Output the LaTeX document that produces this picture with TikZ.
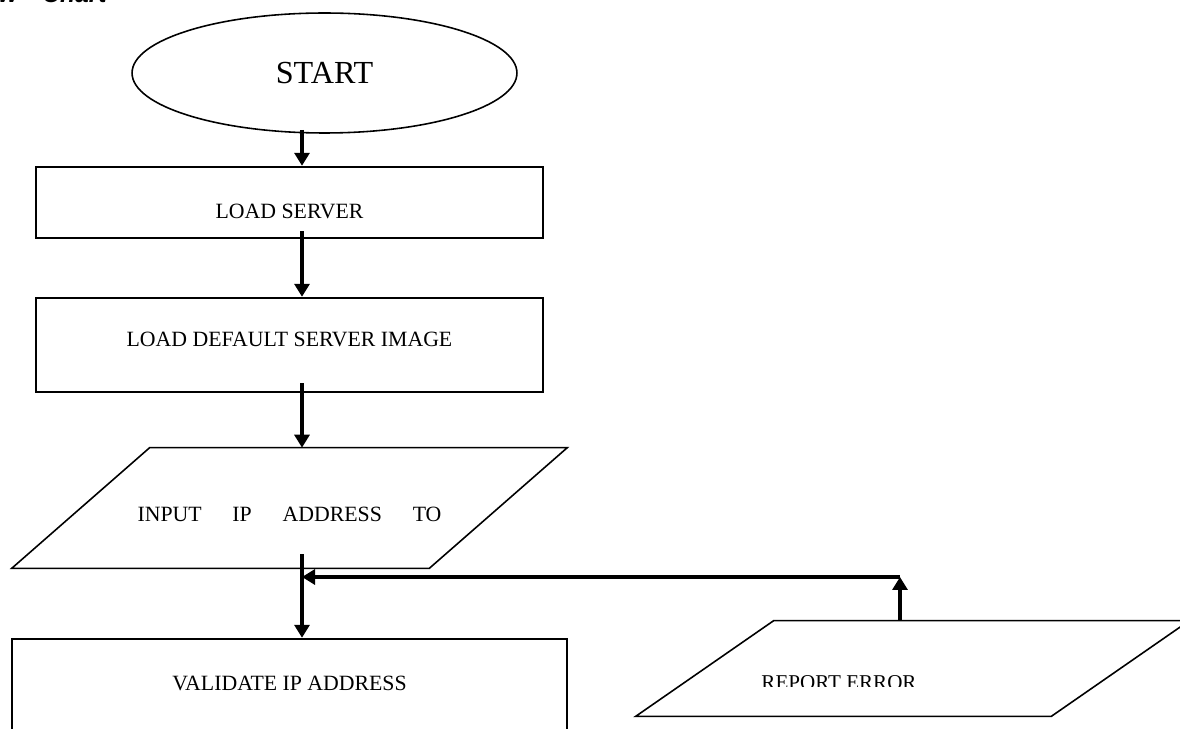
\documentclass[tikz,border=0pt]{standalone}
\usepackage{fontspec}
\setmainfont{Liberation Serif}
\newfontfamily\headfont{Liberation Sans}
\usetikzlibrary{shapes,arrows.meta,positioning}

\begin{document}
\begin{tikzpicture}[x=0.02cm, y=-0.02cm,
		terminal/.style={draw, ellipse, line width=0.9pt, inner sep=0pt,
			minimum width=7.7cm, minimum height=2.4cm, font=\fontsize{18.3}{21}\selectfont},
		box/.style={draw, rectangle, line width=1.4pt, minimum width=10.14cm,
			font=\fontsize{12.4}{15}\selectfont},
		io/.style={rectangle, inner sep=0pt, font=\fontsize{12.4}{15}\selectfont},
		slant/.style={line width=0.9pt},
		arrow/.style={-{Triangle[length=0.26cm, width=0.3cm]}, line width=1.8pt}
		]
		\useasboundingbox (0,0) rectangle (1180,729);
		\coordinate (spine) at (302,0);
		\node[anchor=base east, inner sep=0pt, font=\headfont\bfseries\itshape\fontsize{14}{17}\selectfont] (title) at (107,3) {Flow\quad Chart};
		
		\node[terminal] (start) at (324.5,73) {START};
		\node[box, minimum height=1.42cm, text height=0.66cm, text depth=0pt] (load) at (289.5,202.5) {LOAD SERVER};
		\node[box, minimum height=1.88cm, text height=0.28cm, text depth=0.2cm] (image) at (289.5,345) {LOAD DEFAULT SERVER IMAGE};
		\node[io, minimum width=11.1cm, minimum height=2.4cm, text height=0.56cm, text depth=0pt] (input) at (289.5,508) {\makebox[173pt][s]{INPUT IP ADDRESS TO}};
		\draw[slant] ([xshift=2.76cm]input.north west) -- (input.north east) -- ([xshift=-2.76cm]input.south east) -- (input.south west) -- cycle;
		\node[box, minimum width=11.1cm, minimum height=2.62cm, text height=0.28cm, text depth=0.86cm] (validate) at (289.5,704.5) {VALIDATE IP ADDRESS};
		\node[io, minimum width=11.06cm, minimum height=1.9cm] (report) at (912.5,668.5) {};
		\draw[slant] ([xshift=2.76cm]report.north west) -- (report.north east) -- ([xshift=-2.76cm]report.south east) -- (report.south west) -- cycle;
		\begin{scope}
			\clip (600,600) rectangle (1180,686);
			\node[font=\fontsize{12}{14}\selectfont] (errtext) at (839,683) {REPORT ERROR};
		\end{scope}
		
		\coordinate (turn) at (900,577);
		\coordinate (merge) at (302,577);
		
		\draw[arrow] ([yshift=0.08cm]start.south -| spine) -- (load.north -| spine);
		\draw[arrow] ([yshift=0.16cm]load.south -| spine) -- (image.north -| spine);
		\draw[arrow] ([yshift=0.2cm]image.south -| spine) -- (input.north -| spine);
		\draw[arrow] ([yshift=0.28cm]input.south -| spine) -- (validate.north -| spine);
		\draw[arrow] (report.north -| turn) -- (turn);
		\draw[arrow] (turn) -- (merge);
	\end{tikzpicture}
\end{document}
